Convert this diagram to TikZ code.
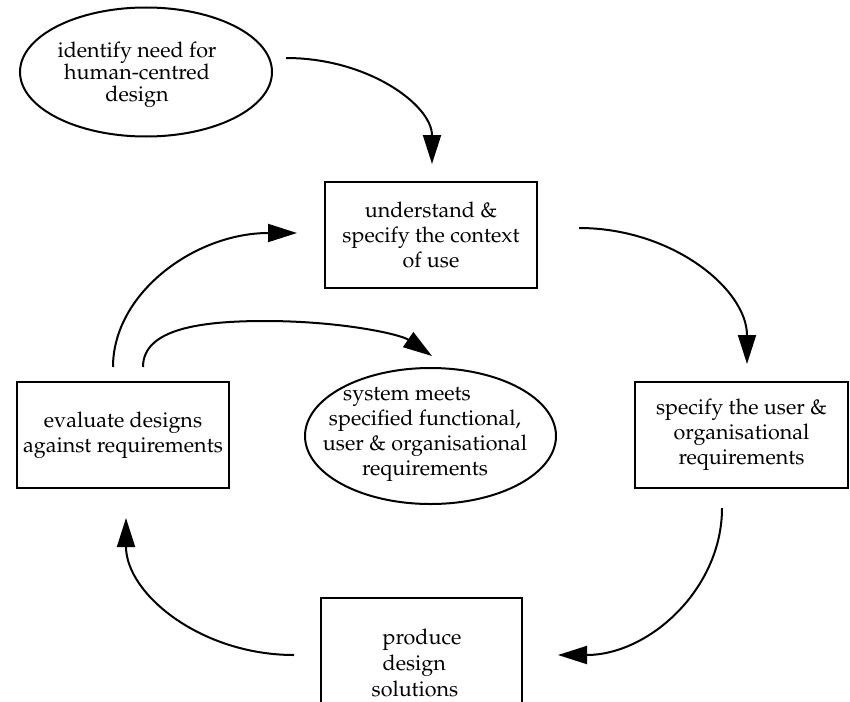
\documentclass[tikz,border=0pt]{standalone}
\usepackage[T1]{fontenc}
\usepackage{mathpazo}
\usetikzlibrary{shapes.geometric,arrows.meta,calc}
\begin{document}
\begin{tikzpicture}[x=1pt,y=-1pt,
  every node/.style={font=\fontsize{21.5}{25}\selectfont, inner sep=0pt, align=center},
  box/.style={draw, line width=2pt, rectangle, minimum width=212pt, minimum height=106pt},
  oval/.style={draw, line width=2pt, ellipse},
  conn/.style={line width=2pt, -{Triangle[length=29pt,width=18pt]}}]
\useasboundingbox (0,0) rectangle (850,701);
\clip (0,0) rectangle (850,701);

% nodes
\node[oval, minimum width=252pt, minimum height=129pt] (need) at (146,72) {};
\node[font=\fontsize{21.5}{22}\selectfont] (needtxt) at (137,75) {identify need for\\human-centred\\design};
\node[box] (ctx) at (431,235) {understand \&\\specify the context\\of use};
\node[box, minimum width=213pt] (req) at (741.5,435) {specify the user \&\\organisational\\requirements};
\node[box, minimum width=201pt] (prod) at (421.5,651) {};
\node[align=left, font=\fontsize{21.5}{26}\selectfont] (prodtxt) at (416.5,663) {\hspace*{11pt}produce\\\hspace*{11pt}design\\solutions};
\node[box] (eval) at (123,435) {evaluate designs\\against requirements};
\node[oval, minimum width=251pt, minimum height=136pt] (sys) at (430.5,436) {};
\node (systxt) at (425,435) {system meets\hspace*{36pt}\\specified functional,\\user \& organisational\\requirements};

% connector end points
\coordinate (a1s) at ($(need.east)+(13,-14)$);
\coordinate (a1e) at ($(ctx.north)+(1,-17)$);
\coordinate (a2s) at ($(ctx.east)+(41,-7)$);
\coordinate (a2e) at ($(req.north)+(5.5,-17)$);
\coordinate (a3s) at ($(req.south)+(-19.5,19)$);
\coordinate (a3e) at ($(prod.east)+(35,4)$);
\coordinate (a4s) at ($(prod.west)+(-26,4)$);
\coordinate (a4e) at ($(eval.south)+(3,29)$);
\coordinate (a5s) at ($(eval.north)+(-10,-14)$);
\coordinate (a5e) at ($(ctx.west)+(-27,-2)$);
\coordinate (a6s) at ($(eval.north)+(20,-14)$);
\coordinate (a6m) at ($(sys.north)+(-165.5,-46)$);
\coordinate (a6e) at ($(sys.north)+(1.5,-11)$);

% connectors
\draw[conn] (a1s) .. controls +(82,0) and +(0,-59) .. (a1e);
\draw[conn] (a2s) .. controls +(93,0) and +(0,-75) .. (a2e);
\draw[conn] (a3s) .. controls +(0,81) and +(91,0) .. (a3e);
\draw[conn] (a4s) .. controls +(-93,0) and +(0,76) .. (a4e);
\draw[conn] (a5s) .. controls +(0,-74) and +(-102,0) .. (a5e);
\draw[conn] (a6s) .. controls +(0,-38) and +(-65,0) .. (a6m) .. controls +(75,0) and +(-32,-22) .. (a6e);
\end{tikzpicture}
\end{document}
